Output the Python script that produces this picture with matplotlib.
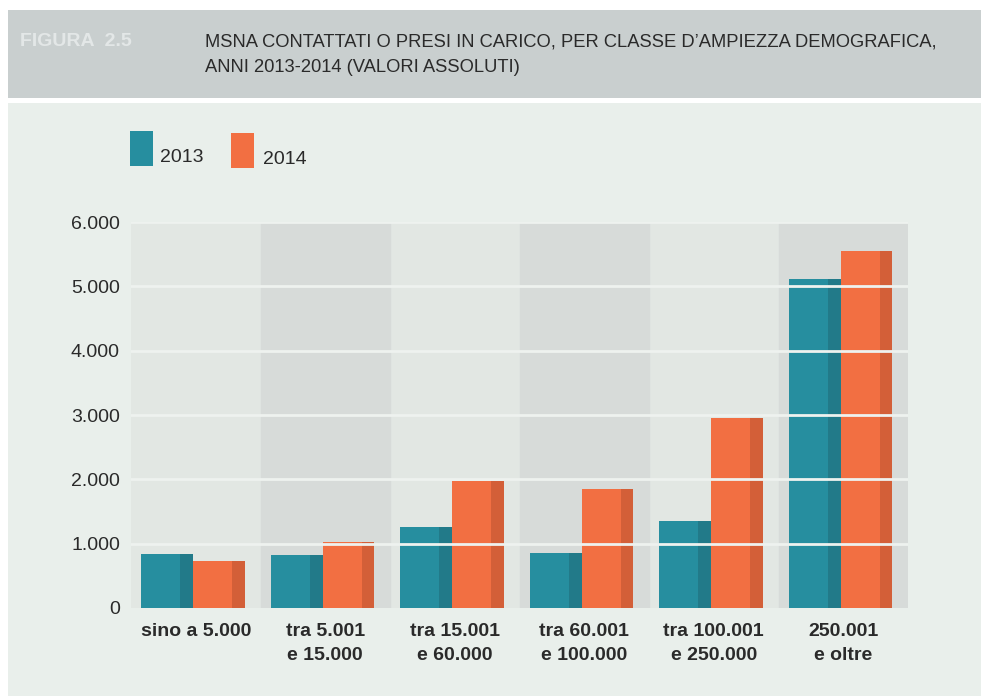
import matplotlib
matplotlib.use("Agg")
from matplotlib import pyplot as plt
from matplotlib.patches import Rectangle
import numpy as np

categories = ["sino a 5.000", "tra 5.001\ne 15.000", "tra 15.001\ne 60.000",
              "tra 60.001\ne 100.000", "tra 100.001\ne 250.000", "250.001\ne oltre"]
vals_2013 = [845, 830, 1260, 860, 1350, 5110]
vals_2014 = [723, 1030, 1970, 1846, 2950, 5550]
yticks = [0, 1000, 2000, 3000, 4000, 5000, 6000]

teal, teal_dark = "#268e9f", "#227a89"
orange, orange_dark = "#f26f42", "#d35f38"
bg = "#e9efeb"
band_light, band_dark = "#e2e7e3", "#d7dbd9"

plt.rcParams['font.family'] = ['Liberation Sans', 'DejaVu Sans']

fig = plt.figure(figsize=(9.81, 6.96), dpi=100)
fig.patch.set_facecolor("white")

# backgrounds: title banner and chart area
fig.add_artist(Rectangle((8/981, 1-98/696), 1, 88/696, transform=fig.transFigure,
                         facecolor="#c9cfcf", edgecolor="none", zorder=-5))
fig.add_artist(Rectangle((8/981, 0), 1, 1-103/696, transform=fig.transFigure,
                         facecolor=bg, edgecolor="none", zorder=-5))

fig.text(20/981, 1-42/696, "FIGURA  2.5", color="#e3e7e7", fontsize=14,
         fontweight="bold", va="center", ha="left")
fig.text(205/981, 1-42/696, "MSNA CONTATTATI O PRESI IN CARICO, PER CLASSE D\u2019AMPIEZZA DEMOGRAFICA,",
         color="#2a2a2a", fontsize=13.2, va="center", ha="left")
fig.text(205/981, 1-67/696, "ANNI 2013-2014 (VALORI ASSOLUTI)",
         color="#2a2a2a", fontsize=13.2, va="center", ha="left")

# legend
fig.add_artist(Rectangle((130/981, 1-166/696), 23/981, 35/696, transform=fig.transFigure,
                         facecolor=teal, edgecolor="none"))
fig.text(160/981, 1-158/696, "2013", fontsize=14, color="#2a2a2a", va="center", ha="left")
fig.add_artist(Rectangle((231/981, 1-168/696), 23/981, 35/696, transform=fig.transFigure,
                         facecolor=orange, edgecolor="none"))
fig.text(263/981, 1-159/696, "2014", fontsize=14, color="#2a2a2a", va="center", ha="left")

ax = fig.add_axes([131/981, 1-608/696, 777/981, 386/696])
ax.set_facecolor(band_light)
ax.set_xlim(0, len(categories))
ax.set_ylim(0, 6000)

for i in range(len(categories)):
    if i % 2 == 1:
        ax.axvspan(i, i + 1, color=band_dark, zorder=0)

x = np.arange(len(categories))
w = 0.40
dark_w = 0.10
ax.bar(x + 0.08, vals_2013, w, align="edge", color=teal, zorder=2)
ax.bar(x + 0.08 + w - dark_w, vals_2013, dark_w, align="edge", color=teal_dark, zorder=2)
ax.bar(x + 0.08 + w, vals_2014, w, align="edge", color=orange, zorder=2)
ax.bar(x + 0.08 + 2*w - dark_w, vals_2014, dark_w, align="edge", color=orange_dark, zorder=2)

for y in yticks[1:]:
    ax.axhline(y, color="#eef2ef", lw=2, zorder=3)

ax.set_yticks(yticks)
ax.set_yticklabels([f"{v:,}".replace(",", ".") for v in yticks], fontsize=14, color="#2a2a2a")
ax.set_xticks(x + 0.5)
ax.set_xticklabels(categories, fontsize=14, fontweight="bold", color="#2a2a2a",
                   linespacing=1.5)
ax.tick_params(length=0, axis="y", pad=8)
ax.tick_params(length=0, axis="x", pad=11)
for s in ax.spines.values():
    s.set_visible(False)

fig.savefig("out.png", dpi=100, facecolor="white")
